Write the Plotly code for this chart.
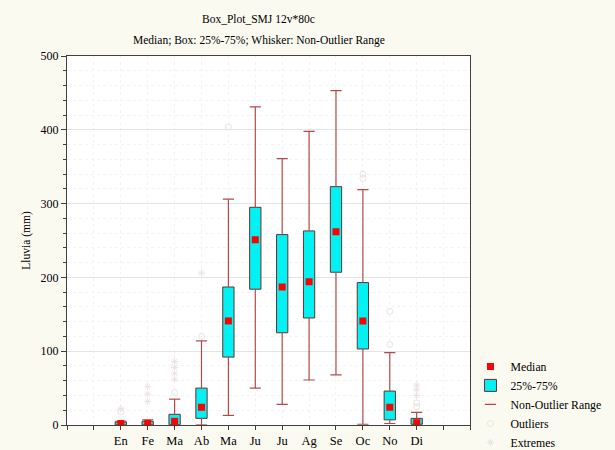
import plotly.graph_objects as go

# ---- data ----
months = ['En', 'Fe', 'Ma', 'Ab', 'Ma', 'Ju', 'Ju', 'Ag', 'Se', 'Oc', 'No', 'Di']
q1 = [0, 0, 0.5, 9, 92, 184, 125, 145, 207, 103, 7, 1]
median = [2, 2, 5, 24, 141, 251, 187, 194, 262, 141, 24, 3]
q3 = [4, 5, 14.5, 50, 187, 295, 258, 263, 323, 193, 46, 9]
whisker_low = [0, 0, 0, 0, 13, 50, 28, 61, 68, 1, 2, 0]
whisker_high = [5, 7, 35, 114, 306, 431, 361, 398, 453, 319, 98, 17]
outliers = [[18], [], [44], [120], [404], [], [], [], [], [334, 340], [109, 154], [25, 30]]
extremes = [[22], [32, 42, 52], [62, 70, 78, 86], [206], [], [], [], [], [], [], [], [40, 48, 54]]

y_ticks = [0, 100, 200, 300, 400, 500]

pos = list(range(1, len(months) + 1))
x_tickvals = list(range(-1, len(months) + 3))
x_ticktext = [months[v - 1] if 1 <= v <= len(months) else '' for v in x_tickvals]

out_x = [p for p, vals in zip(pos, outliers) for _ in vals]
out_y = [v for vals in outliers for v in vals]
ext_x = [p for p, vals in zip(pos, extremes) for _ in vals]
ext_y = [v for vals in extremes for v in vals]

WH = '#b5474a'
FAINT = '#ebe3e3'
FONT = 'Liberation Serif'

fig = go.Figure()

# box 25%-75%
fig.add_trace(go.Bar(
    x=pos, y=[b - a for a, b in zip(q1, q3)], base=q1, width=0.42,
    marker=dict(color='#00f2f2', line=dict(color='#6a2f2f', width=1)),
    name='25%-75%', legendrank=2, hoverinfo='skip'))

# whiskers: caps as markers, stems as error bars
fig.add_trace(go.Scatter(
    x=pos + pos, y=whisker_high + whisker_low, mode='markers',
    marker=dict(symbol='line-ew-open', size=8, color=WH, line=dict(color=WH, width=1.2)),
    error_y=dict(type='data', symmetric=False,
                 array=[0] * len(pos) + [a - l for a, l in zip(q1, whisker_low)],
                 arrayminus=[h - b for h, b in zip(whisker_high, q3)] + [0] * len(pos),
                 color=WH, thickness=1.2, width=0),
    name='Non-Outlier Range', legendrank=3, hoverinfo='skip'))

fig.add_trace(go.Scatter(
    x=pos, y=median, mode='markers',
    marker=dict(symbol='square', size=7, color='#ff0000'),
    name='Median', legendrank=1))

fig.add_trace(go.Scatter(
    x=out_x, y=out_y, mode='markers',
    marker=dict(symbol='circle-open', size=6, color=FAINT, line=dict(width=1)),
    name='Outliers', legendrank=4))

fig.add_trace(go.Scatter(
    x=ext_x, y=ext_y, mode='markers',
    marker=dict(symbol='asterisk-open', size=6, color=FAINT, line=dict(width=1)),
    name='Extremes', legendrank=5))

axis_col = '#404040'
fig.update_layout(
    width=615, height=450,
    margin=dict(l=67, r=125, t=56, b=25),
    paper_bgcolor='#fbfaf0', plot_bgcolor='white',
    font=dict(family=FONT, size=12, color='black'),
    showlegend=True,
    legend=dict(xref='container', yref='container', x=0.765, xanchor='left', y=0.218, yanchor='top',
                bgcolor='rgba(0,0,0,0)', font=dict(family=FONT, size=11.8), itemwidth=30),
    xaxis=dict(range=[-1, len(months) + 2], tickmode='array', tickvals=x_tickvals, ticktext=x_ticktext,
               showline=True, linecolor=axis_col, linewidth=1, mirror=True,
               ticks='outside', ticklen=4, tickcolor=axis_col, automargin=False,
               showgrid=True, gridcolor='#f3f3f3', griddash='dot', zeroline=False,
               tickfont=dict(size=12.5)),
    yaxis=dict(range=[0, 500], tickmode='array', tickvals=y_ticks, automargin=False,
               showline=True, linecolor=axis_col, linewidth=1, mirror=True,
               ticks='outside', ticklen=5, tickcolor=axis_col,
               minor=dict(dtick=20, ticks='outside', ticklen=3, tickcolor=axis_col,
                          showgrid=True, gridcolor='#f4f4f4', griddash='dot'),
               showgrid=True, gridcolor='#e4e4e4', zeroline=False,
               title=dict(text='Lluvia (mm)', font=dict(size=11.5), standoff=7),
               tickfont=dict(size=12)),
    xaxis2=dict(overlaying='x', side='top', anchor='y', range=[-1, len(months) + 2], automargin=False,
                tickmode='array', tickvals=x_tickvals, showticklabels=False,
                ticks='inside', ticklen=4, tickcolor=axis_col, showgrid=False,
                showline=False, zeroline=False),
    yaxis2=dict(overlaying='y', side='right', anchor='x', range=[0, 500], automargin=False,
                tickmode='array', tickvals=y_ticks, showticklabels=False,
                ticks='inside', ticklen=5, tickcolor=axis_col,
                minor=dict(dtick=20, ticks='inside', ticklen=3, tickcolor=axis_col),
                showgrid=False, showline=False, zeroline=False),
    annotations=[
        dict(text='Box_Plot_SMJ 12v*80c', xref='paper', yref='paper', x=0.475, y=1.100,
             xanchor='center', yanchor='middle', showarrow=False, font=dict(size=11.5)),
        dict(text='Median; Box: 25%-75%; Whisker: Non-Outlier Range', xref='paper', yref='paper',
             x=0.475, y=1.041, xanchor='center', yanchor='middle', showarrow=False, font=dict(size=11.5)),
    ],
)

fig.write_html('out.html', config={'displayModeBar': False},
               post_script="document.body.style.margin='0';document.body.style.overflow='hidden';")
